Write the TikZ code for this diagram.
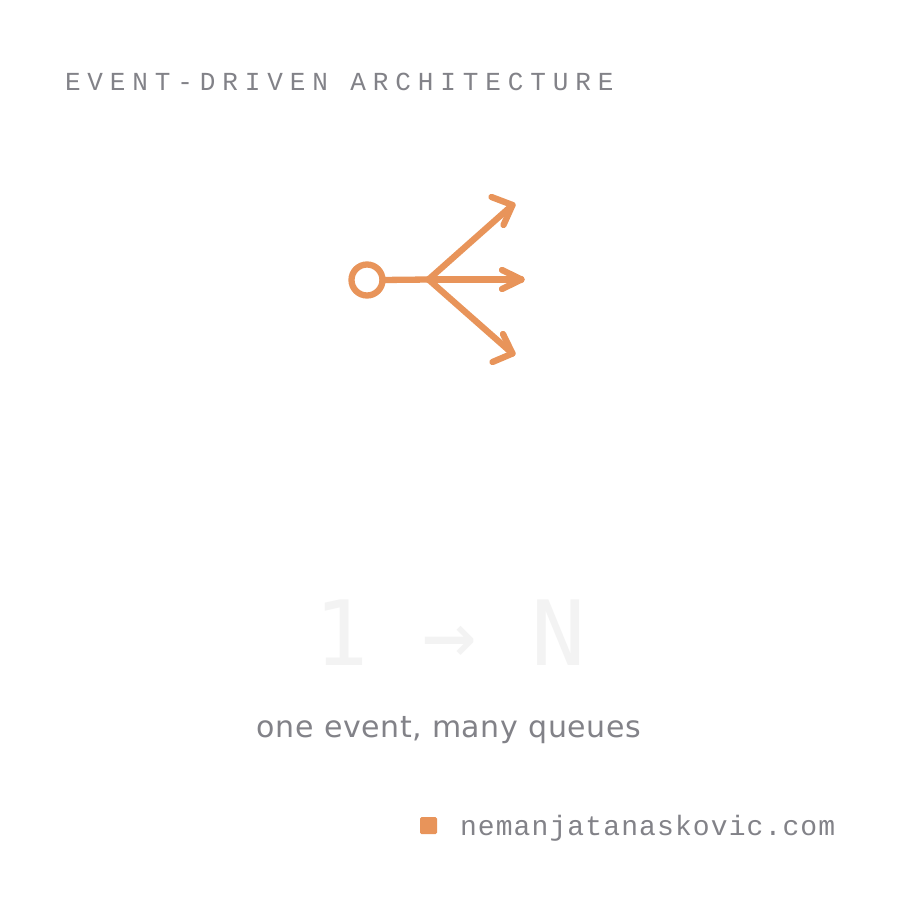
\documentclass[tikz,border=0pt]{standalone}
\usepackage{fontspec}
\setmainfont{DejaVu Sans}
\newfontfamily\titlefont[LetterSpace=26.5]{Liberation Mono}
\newfontfamily\sitefont[LetterSpace=4]{Liberation Mono}
\newfontfamily\captionfont[LetterSpace=2]{DejaVu Sans}
\newfontfamily\bigfont{DejaVu Sans Mono}
\definecolor{accent}{HTML}{E8945A}
\definecolor{txtgray}{HTML}{828288}
\definecolor{faint}{HTML}{F3F3F3}
\tikzset{
  icon/.style={draw=accent, line width=6.3pt, line cap=round, line join=round},
  lbl/.style={inner sep=0pt, outer sep=0pt},
}
\begin{document}
\begin{tikzpicture}[x=1pt,y=-1pt]
\useasboundingbox[fill=white] (0,0) rectangle (900,900);
% title
\node[lbl, anchor=base west, text=txtgray, font=\titlefont\fontsize{26}{30}\selectfont] (title) at (65,90) {EVENT-DRIVEN ARCHITECTURE};
% icon
\node[lbl, circle, minimum size=31pt, icon, draw=accent] (src) at (367,280) {};
\coordinate (hub) at (428.5,279.5);
\coordinate (tU) at (512.5,205);
\coordinate (tM) at (521.5,279.5);
\coordinate (tD) at (512.5,353.5);
\draw[icon] (src.east) -- (hub);
\draw[icon] (hub) -- (tU);
\draw[icon] (hub) -- (tM);
\draw[icon] (hub) -- (tD);
\draw[icon] (491.5,197) -- (tU) -- (503.5,225);
\draw[icon] (502,270) -- (tM) -- (502,289);
\draw[icon] (503,334) -- (tD) -- (492.5,362);
% big ratio text
\node[lbl, anchor=base, text=faint, font=\bigfont\fontsize{90}{100}\selectfont] (ratio) at (450,665) {1 → N};
% caption
\node[lbl, anchor=base, text=txtgray, font=\captionfont\fontsize{30}{34}\selectfont] (caption) at (449,737) {one event, many queues};
% footer
\node[lbl, fill=accent, rounded corners=1.5pt, minimum size=17pt] (dot) at (428.5,825.5) {};
\node[lbl, anchor=base west, text=txtgray, font=\sitefont\fontsize{28}{32}\selectfont] (site) at (460,835.5) {nemanjatanaskovic.com};
\end{tikzpicture}
\end{document}
